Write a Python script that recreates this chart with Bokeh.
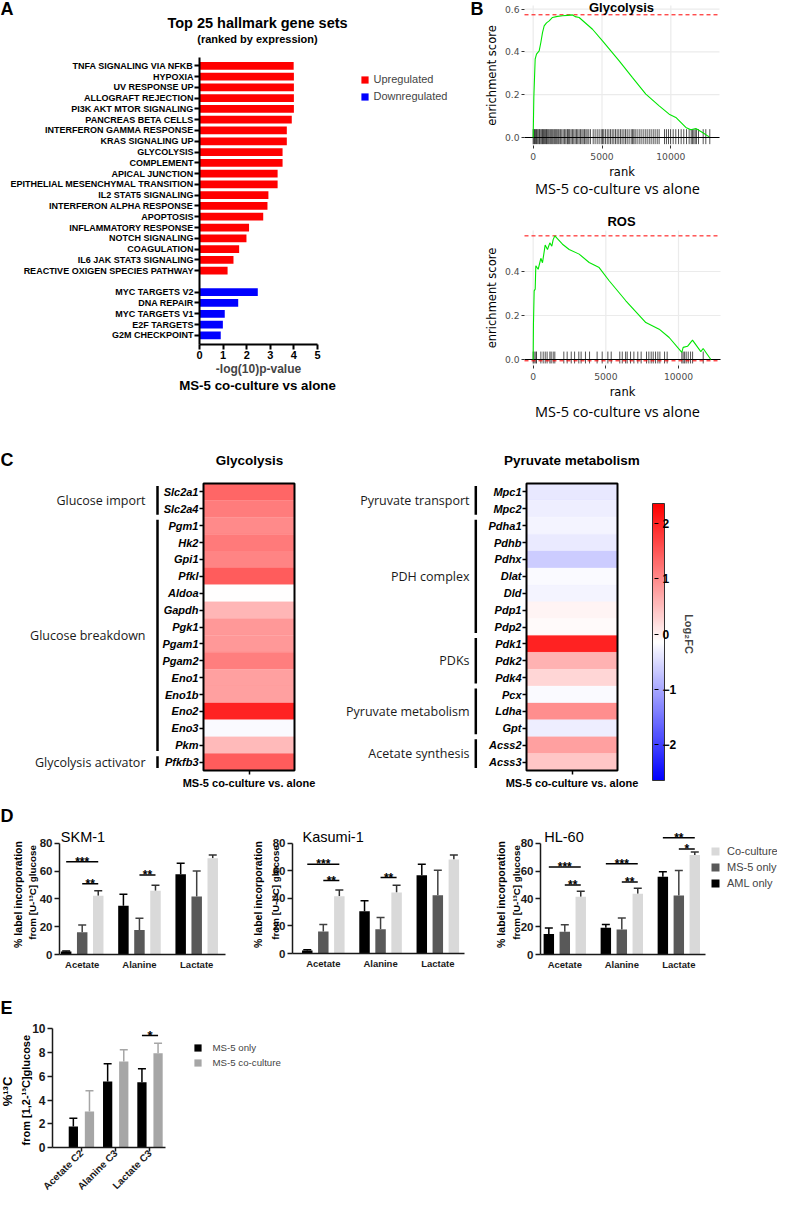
from math import pi
from bokeh.plotting import figure
from bokeh.layouts import row, column
from bokeh.models import (Range1d, LinearAxis, FixedTicker, Label, Legend, LegendItem, Whisker,
                          TeeHead, ColumnDataSource, LinearColorMapper, ColorBar,
                          PrintfTickFormatter)
from bokeh.core.properties import value
from bokeh.embed import file_html
from bokeh.resources import INLINE

SANS = "Liberation Sans"
GG = "DejaVu Sans"
OPEN = "Open Sans"

# ---------------- data: panel A ----------------
A_up_sets = ["TNFA SIGNALING VIA NFKB", "HYPOXIA", "UV RESPONSE UP", "ALLOGRAFT REJECTION",
             "PI3K AKT MTOR SIGNALING", "PANCREAS BETA CELLS", "INTERFERON GAMMA RESPONSE",
             "KRAS SIGNALING UP", "GLYCOLYSIS", "COMPLEMENT", "APICAL JUNCTION",
             "EPITHELIAL MESENCHYMAL TRANSITION", "IL2 STAT5 SIGNALING", "INTERFERON ALPHA RESPONSE",
             "APOPTOSIS", "INFLAMMATORY RESPONSE", "NOTCH SIGNALING", "COAGULATION",
             "IL6 JAK STAT3 SIGNALING", "REACTIVE OXIGEN SPECIES PATHWAY"]
A_up_vals = [3.99, 4.00, 4.00, 4.00, 4.00, 3.91, 3.70, 3.70, 3.52, 3.52, 3.31, 3.31,
             2.92, 2.88, 2.70, 2.10, 1.99, 1.68, 1.44, 1.19]
A_down_sets = ["MYC TARGETS V2", "DNA REPAIR", "MYC TARGETS V1", "E2F TARGETS", "G2M CHECKPOINT"]
A_down_vals = [2.47, 1.64, 1.07, 0.99, 0.90]
A_xticks = [0, 1, 2, 3, 4, 5]

# ---------------- data: panel B ----------------
gly_rank = [0, 48, 145, 242, 436, 557, 678, 799, 969, 1162, 1404, 1768, 2131, 2494, 2857, 3051,
            3341, 4310, 5036, 6247, 7215, 8184, 9153, 9879, 10363, 11090, 11453, 11816, 12300, 12785]
gly_es = [0.0, 0.187, 0.366, 0.390, 0.405, 0.444, 0.490, 0.522, 0.536, 0.545, 0.561, 0.566, 0.569,
          0.571, 0.573, 0.565, 0.561, 0.506, 0.452, 0.358, 0.280, 0.203, 0.148, 0.109, 0.094, 0.047,
          0.036, 0.042, 0.023, 0.003]
gly_hits = [0, 60, 100, 170, 240, 290, 360, 440, 480, 560, 630, 680, 750, 820, 900, 970, 1020, 1090,
            1160, 1240, 1310, 1380, 1450, 1530, 1600, 1670, 1740, 1820, 1890, 1990, 2080, 2180, 2280,
            2370, 2470, 2520, 2590, 2660, 2760, 2860, 2950, 3050, 3150, 3240, 3340, 3440, 3540, 3630,
            3730, 3830, 3920, 4040, 4160, 4360, 4500, 4650, 4790, 4940, 5040, 5130, 5250, 5380, 5500,
            5620, 5740, 5860, 5980, 6100, 6220, 6340, 6460, 6590, 6710, 6830, 6970, 7120, 7220, 7310,
            7410, 7550, 7700, 7840, 7990, 8140, 8280, 8430, 8570, 8720, 8860, 9010, 9150, 9540, 9680,
            9830, 9980, 10170, 10360, 10560, 10750, 10940, 11140, 11330, 11480, 11570, 11670, 11770,
            11860, 12010, 12350, 12540, 12830]
gly_es_max = 0.5735

ros_rank = [0, 20, 69, 140, 183, 344, 528, 642, 826, 986, 1147, 1284, 1376, 1491, 2018, 2477, 3165,
            3853, 4541, 5229, 6376, 7752, 8670, 9358, 10229, 10321, 10619, 10963, 11537, 11697, 12225]
ros_es = [0.0, 0.16, 0.312, 0.32, 0.426, 0.41, 0.46, 0.44, 0.52, 0.50, 0.53, 0.515, 0.545, 0.562,
          0.524, 0.50, 0.479, 0.441, 0.418, 0.358, 0.267, 0.168, 0.138, 0.10, 0.032, 0.055, 0.06,
          0.088, 0.036, 0.05, 0.0]
ros_hits = [0, 70, 180, 230, 530, 690, 830, 960, 1150, 1240, 1380, 1490, 2110, 2340, 2620, 2850, 3140,
            3300, 3600, 3880, 4400, 4750, 5140, 5370, 5960, 6130, 6360, 6470, 6700, 6930, 7200, 7430,
            7800, 7960, 8120, 8260, 8420, 8580, 8720, 9040, 9220, 10230, 10320, 10420, 10530, 10670,
            10830, 10970, 11700]
ros_es_max = 0.562
ros_es_min = -0.006
rank_ticks = [0, 5000, 10000]

# ---------------- data: panel C ----------------
gly_genes = ["Slc2a1", "Slc2a4", "Pgm1", "Hk2", "Gpi1", "Pfkl", "Aldoa", "Gapdh", "Pgk1", "Pgam1",
             "Pgam2", "Eno1", "Eno1b", "Eno2", "Eno3", "Pkm", "Pfkfb3"]
gly_fc = [1.5, 1.27, 1.15, 1.3, 1.2, 1.6, 0.0, 0.72, 1.0, 1.0, 1.25, 0.93, 0.93, 2.15, -0.04, 0.68, 1.6]
gly_groups = [("Glucose import", 0, 1), ("Glucose breakdown", 2, 15), ("Glycolysis activator", 16, 16)]

pyr_genes = ["Mpc1", "Mpc2", "Pdha1", "Pdhb", "Pdhx", "Dlat", "Dld", "Pdp1", "Pdp2", "Pdk1", "Pdk2",
             "Pdk4", "Pcx", "Ldha", "Gpt", "Acss2", "Acss3"]
pyr_fc = [-0.22, -0.17, -0.1, -0.2, -0.5, -0.05, -0.1, 0.1, 0.05, 2.15, 0.75, 0.4, -0.05, 1.1, -0.17,
          0.93, 0.55]
pyr_groups = [("Pyruvate transport", 0, 1), ("PDH complex", 2, 8), ("PDKs", 9, 11),
              ("Pyruvate metabolism", 12, 14), ("Acetate synthesis", 15, 16)]
cbar_ticks = [-2, -1, 0, 1, 2]

# ---------------- data: panel D ----------------
D_cats = ["Acetate", "Alanine", "Lactate"]
D_groups = ["AML only", "MS-5 only", "Co-culture"]
D_yticks = [0, 20, 40, 60, 80]

skm_aml = [2.1, 35.1, 57.8];   skm_aml_sd = [0.5, 8.3, 7.8]
skm_ms5 = [16.0, 17.7, 41.8];  skm_ms5_sd = [5.2, 8.3, 18.3]
skm_co = [42.2, 45.8, 69.2];   skm_co_sd = [3.6, 4.1, 2.4]
skm_sig_cat = [0, 0, 1]; skm_sig_a = [0, 1, 1]; skm_sig_b = [2, 2, 2]
skm_sig_h = [66.8, 51.0, 57.3]; skm_sig_txt = ["***", "**", "**"]

kas_aml = [2.2, 30.7, 56.8];   kas_aml_sd = [0.5, 7.5, 8.0]
kas_ms5 = [16.0, 17.6, 42.3];  kas_ms5_sd = [5.0, 8.5, 18.1]
kas_co = [41.6, 44.2, 68.2];   kas_co_sd = [4.4, 5.3, 3.3]
kas_sig_cat = [0, 0, 1]; kas_sig_a = [0, 1, 1]; kas_sig_b = [2, 2, 2]
kas_sig_h = [64.8, 52.9, 55.1]; kas_sig_txt = ["***", "**", "**"]

hl_aml = [14.7, 19.2, 56.0];   hl_aml_sd = [4.3, 2.4, 3.6]
hl_ms5 = [16.3, 18.0, 42.5];   hl_ms5_sd = [5.1, 8.2, 18.0]
hl_co = [41.6, 43.7, 71.6];    hl_co_sd = [4.0, 3.9, 2.2]
hl_sig_cat = [0, 0, 1, 1, 2, 2]; hl_sig_a = [0, 1, 0, 1, 0, 1]; hl_sig_b = [2, 2, 2, 2, 2, 2]
hl_sig_h = [62.9, 50.0, 65.3, 52.1, 84.1, 75.9]; hl_sig_txt = ["***", "**", "***", "**", "**", "*"]

# ---------------- data: panel E ----------------
E_cats = ["Acetate C2", "Alanine C3", "Lactate C3"]
E_groups = ["MS-5 only", "MS-5 co-culture"]
E_only = [1.77, 5.56, 5.50];  E_only_sd = [0.70, 1.49, 1.13]
E_co = [3.03, 7.25, 7.95];    E_co_sd = [1.75, 0.98, 0.84]
E_sig_cat = [2]; E_sig_h = [9.44]; E_sig_txt = ["*"]
E_yticks = [0, 2, 4, 6, 8, 10]

# ---------------- helpers ----------------
M = {}


def mkfig(px, py, w, h, L, T, R, B, xr, yr):
    """Figure whose frame is the whole canvas; (L,T,R,B) page box maps to data xr / yr."""
    sx = (xr[1] - xr[0]) / (R - L)
    sy = (yr[1] - yr[0]) / (B - T)
    fx = (xr[0] - (L - px) * sx, xr[1] + (px + w - R) * sx)
    fy = (yr[0] - (py + h - B) * sy, yr[1] + (T - py) * sy)
    p = figure(width=w, height=h, x_range=Range1d(*fx), y_range=Range1d(*fy),
               output_backend="svg", toolbar_location=None,
               x_axis_location=None, y_axis_location=None, min_border=0)
    p.grid.visible = False
    p.outline_line_color = None
    p.background_fill_color = "white"
    p.border_fill_color = "white"
    M[p.id] = (px, py, px + w, py + h, fx, fy)
    return p


def X(p, px):
    x0, y0, x1, y1, fx, fy = M[p.id]
    return fx[0] + (px - x0) / (x1 - x0) * (fx[1] - fx[0])


def Y(p, py):
    x0, y0, x1, y1, fx, fy = M[p.id]
    return fy[0] + (y1 - py) / (y1 - y0) * (fy[1] - fy[0])


def label(p, x, y, text, size, style="normal", font=SANS, align="center", baseline="middle",
          angle=0.0, color="black"):
    p.add_layout(Label(x=x, y=y, text=text, text_font=font, text_font_size=f"{size}px",
                       text_font_style=style, text_align=align, text_baseline=baseline,
                       angle=angle, text_color=color))


def plabel(p, px, py, text, size, **kw):
    label(p, X(p, px), Y(p, py), text, size, **kw)


def style_axis(ax, size, fstyle="bold", font=SANS, tick_out=4, tick_in=0, standoff=2, lw=1.5,
               color="black", line=True, label_color=None):
    ax.major_label_text_font = font
    ax.major_label_text_font_size = f"{size}px"
    ax.major_label_text_font_style = fstyle
    ax.major_label_text_color = label_color or color
    ax.major_label_standoff = standoff
    ax.major_tick_out = tick_out
    ax.major_tick_in = tick_in
    ax.major_tick_line_color = color
    ax.major_tick_line_width = lw
    ax.minor_tick_line_color = None
    ax.axis_line_color = color if line else None
    ax.axis_line_width = lw
    ax.axis_label_text_font = font
    ax.axis_label_text_font_style = "normal"


def leg_loc(p, left_px, bottom_px, dx=8, dy=8):
    x0, y0, x1, y1, fx, fy = M[p.id]
    return (left_px - x0 + dx, y1 - bottom_px - dy)


# ================= Panel A =================
A_yr = (25.85, -0.77)
pA = mkfig(8, 8, 468, 424, 207, 65, 325, 352, (0, 5), A_yr)
slot_up = list(range(len(A_up_sets)))
slot_dn = [len(A_up_sets) + 1 + i for i in range(len(A_down_sets))]
rU = pA.hbar(y=slot_up, left=0, right=A_up_vals, height=0.72, fill_color="#FF0000", line_color=None)
rD = pA.hbar(y=slot_dn, left=0, right=A_down_vals, height=0.72, fill_color="#0000FF", line_color=None)
ayA = LinearAxis(ticker=FixedTicker(ticks=slot_up + slot_dn), fixed_location=0,
                 bounds=(min(A_yr), max(A_yr)),
                 major_label_overrides={s: n for s, n in zip(slot_up + slot_dn, A_up_sets + A_down_sets)})
style_axis(ayA, 9, tick_out=5, standoff=1, lw=2)
pA.add_layout(ayA, "left")
axA = LinearAxis(ticker=FixedTicker(ticks=A_xticks), fixed_location=A_yr[0], bounds=(0, 5),
                 axis_label="-log(10)p-value")
style_axis(axA, 11, tick_out=5, standoff=1, lw=2)
axA.axis_label_text_font_size = "12px"
axA.axis_label_text_font_style = "bold"
axA.axis_label_standoff = 0
pA.add_layout(axA, "below")
legA = Legend(items=[LegendItem(label="Upregulated", renderers=[rU]),
                     LegendItem(label="Downregulated", renderers=[rD])],
              location=leg_loc(pA, 359.5, 104.5), glyph_width=9, glyph_height=9, label_height=17,
              spacing=0, padding=0, margin=0, label_standoff=5, label_text_font_size="11px",
              label_text_font=SANS, border_line_color=None, background_fill_alpha=0)
pA.add_layout(legA)
plabel(pA, 8, 16, "A", 18, style="bold", align="left")
plabel(pA, 265, 30, "Top 25 hallmark gene sets", 14.5, style="bold")
plabel(pA, 265, 46, "(ranked by expression)", 11, style="bold")
plabel(pA, 265, 392.5, "MS-5 co-culture vs alone", 13.3, style="bold")


# ================= Panel B =================
def gsea(p, xr, yr, ranks, es, hits, rug_lo, rug_hi, es_max, es_min, yticks, title, title_py, sub_py):
    p.segment(x0=rank_ticks, y0=yr[0], x1=rank_ticks, y1=yr[1], line_color="#EBEBEB", line_width=1.2)
    p.segment(x0=xr[0], y0=yticks, x1=xr[1], y1=yticks, line_color="#EBEBEB", line_width=1.2)
    p.segment(x0=hits, y0=rug_lo, x1=hits, y1=rug_hi, line_color="black", line_width=0.8,
              line_alpha=0.85)
    p.segment(x0=[xr[0]], y0=[0], x1=[xr[1]], y1=[0], line_color="black", line_width=1.2)
    hl = [es_max] + ([es_min] if es_min is not None else [])
    p.segment(x0=xr[0], y0=hl, x1=xr[1], y1=hl, line_color="red", line_dash="4 3", line_width=1)
    p.line(ranks, es, line_color="#00E600", line_width=1.1)
    ay = LinearAxis(ticker=FixedTicker(ticks=yticks), formatter=PrintfTickFormatter(format="%.1f"),
                    axis_label="enrichment score", fixed_location=xr[0], bounds=yr)
    style_axis(ay, 9.2, fstyle="normal", font=GG, tick_out=3, standoff=2, lw=1, color="#333333",
               line=False, label_color="#4D4D4D")
    ay.axis_label_text_font_size = "11.5px"
    ay.axis_label_text_color = "black"
    ay.axis_label_standoff = 3
    p.add_layout(ay, "left")
    ax = LinearAxis(ticker=FixedTicker(ticks=rank_ticks), formatter=PrintfTickFormatter(format="%d"),
                    axis_label="rank", fixed_location=yr[0], bounds=xr)
    style_axis(ax, 9.2, fstyle="normal", font=GG, tick_out=3, standoff=4, lw=1, color="#333333",
               line=False, label_color="#4D4D4D")
    ax.axis_label_text_font_size = "11.5px"
    ax.axis_label_text_color = "black"
    ax.axis_label_standoff = 2
    p.add_layout(ax, "below")
    plabel(p, 629, title_py, title, 13, style="bold")
    plabel(p, 625, sub_py, "MS-5 co-culture vs alone", 14.5, font=OPEN)


B1_xr, B1_yr = (-630, 13535), (-0.0374, 0.617)
pB1 = mkfig(476, 8, 309, 197, 532, 13, 727, 153, B1_xr, B1_yr)
gsea(pB1, B1_xr, B1_yr, gly_rank, gly_es, gly_hits, -0.031, 0.039, gly_es_max, None,
     [0, 0.2, 0.4, 0.6], "Glycolysis", 14.5, 196)
plabel(pB1, 478, 16, "B", 18, style="bold", align="left")

B2_xr, B2_yr = (-596, 12890), (-0.0273, 0.5864)
pB2 = mkfig(476, 205, 309, 227, 532, 238, 728, 373, B2_xr, B2_yr)
gsea(pB2, B2_xr, B2_yr, ros_rank, ros_es, ros_hits, -0.018, 0.036, ros_es_max, ros_es_min,
     [0, 0.2, 0.4], "ROS", 229, 419)

# ================= Panel C =================
palette = []
for i in range(256):
    t = i / 255.0
    if t < 0.5:
        s = t / 0.5
        palette.append("#%02x%02x%02x" % (int(round(255 * s)), int(round(255 * s)), 255))
    else:
        s = (t - 0.5) / 0.5
        palette.append("#%02x%02x%02x" % (255, int(round(255 * (1 - s))), int(round(255 * (1 - s)))))
mapper = LinearColorMapper(palette=palette, low=-2.5, high=2.5)


def heat(p, genes, fc, groups, title, title_px, bracket_px, label_px):
    n = len(genes)
    src = ColumnDataSource(dict(row=list(range(n)), fc=fc))
    p.rect(x=0, y="row", width=1, height=1, source=src,
           fill_color={"field": "fc", "transform": mapper},
           line_color={"field": "fc", "transform": mapper}, line_width=0.3)
    p.rect(x=[0], y=[(n - 1) / 2.0], width=1, height=n, fill_color=None, line_color="black",
           line_width=2)
    ay = LinearAxis(ticker=FixedTicker(ticks=list(range(n))), fixed_location=-0.5,
                    bounds=(-0.5, n - 0.5),
                    major_label_overrides={i: g for i, g in enumerate(genes)})
    style_axis(ay, 11, fstyle="bold italic", tick_out=4, standoff=1, lw=1.5, line=False)
    p.add_layout(ay, "left")
    ax = LinearAxis(ticker=FixedTicker(ticks=[0]), fixed_location=n - 0.5, bounds=(-0.5, 0.5),
                    major_label_overrides={0: "MS-5 co-culture vs. alone"})
    style_axis(ax, 11, fstyle="bold", tick_out=4, standoff=2, lw=1.5, line=False)
    p.add_layout(ax, "below")
    plabel(p, title_px, 467.7, title, 13.5, style="bold")
    bx = X(p, bracket_px)
    lx = X(p, label_px)
    p.segment(x0=bx, y0=[g[1] - 0.5 + 0.15 for g in groups], x1=bx,
              y1=[g[2] + 0.5 - 0.15 for g in groups], line_color="black", line_width=2.5)
    for name, r0, r1 in groups:
        label(p, lx, (r0 + r1) / 2.0, name, 12.5, font=OPEN, align="right", color="#1a1a1a")


pC1 = mkfig(8, 432, 340, 368, 211, 491, 302, 778, (-0.5, 0.5), (16.5, -0.5))
heat(pC1, gly_genes, gly_fc, gly_groups, "Glycolysis", 257, 165, 153)
plabel(pC1, 8, 467, "C", 18, style="bold", align="left")

pC2 = mkfig(348, 432, 437, 368, 534, 491, 625, 778, (-0.5, 0.5), (16.5, -0.5))
heat(pC2, pyr_genes, pyr_fc, pyr_groups, "Pyruvate metabolism", 579.3, 483.3, 477)
# colour-bar scale: -2.5 at page y 780, +2.5 at page y 503
cb_sy = 5.0 / (780 - 503)
pC2.extra_y_ranges = {"cb": Range1d(-2.5 - (800 - 780) * cb_sy, 2.5 + (503 - 432) * cb_sy)}
cb = ColorBar(color_mapper=mapper, location=leg_loc(pC2, 652, 780), width=12, height=277,
              padding=0, margin=0, ticker=FixedTicker(ticks=[]), major_tick_line_color=None,
              minor_tick_line_color=None, bar_line_color="#333333", bar_line_width=1,
              label_standoff=0, background_fill_alpha=0, border_line_color=None)
pC2.add_layout(cb)
acb = LinearAxis(ticker=FixedTicker(ticks=cbar_ticks), axis_label="Log\u2082FC", y_range_name="cb",
                 fixed_location=X(pC2, 664), bounds=(-2.5, 2.5), level="overlay")
style_axis(acb, 12, tick_out=2, tick_in=2, standoff=4, lw=1.2, line=False)
acb.axis_label_text_font_size = "11px"
acb.axis_label_text_font_style = "bold"
acb.axis_label_standoff = 4
pC2.add_layout(acb, "right")

# ================= Panel D =================
D_OFF = [-0.28, 0.0, 0.28]
D_COLORS = ["#000000", "#595959", "#D9D9D9"]
D_WCOLORS = ["#000000", "#404040", "#303030"]


def bar_panel(p, xr, cats, vals, sds, offs, width, colors, wcolors, sig_cat, sig_a, sig_b, sig_h,
              sig_txt, yticks, ybound, ysize, xsize, star_size, xrot="horizontal", xtick=0, xstand=4):
    rends = []
    for g in range(len(vals)):
        xs = [i + offs[g] for i in range(len(cats))]
        src = ColumnDataSource(dict(x=xs, top=vals[g], up=[v + e for v, e in zip(vals[g], sds[g])]))
        r = p.vbar(x="x", top="top", bottom=0, width=width, source=src, fill_color=colors[g],
                   line_color=None)
        rends.append(r)
        p.add_layout(Whisker(source=src, base="x", lower="top", upper="up", dimension="height",
                             line_color=wcolors[g], line_width=1.5, lower_head=None,
                             upper_head=TeeHead(size=8, line_color=wcolors[g], line_width=1.5)))
    x0 = [c + offs[a] for c, a in zip(sig_cat, sig_a)]
    x1 = [c + offs[b] for c, b in zip(sig_cat, sig_b)]
    p.segment(x0=x0, y0=sig_h, x1=x1, y1=sig_h, line_color="black", line_width=1.5)
    p.text(x=[(a + b) / 2 for a, b in zip(x0, x1)], y=sig_h, text=sig_txt,
           text_font=value(SANS), text_font_size=value(f"{star_size}px"), text_font_style="bold",
           text_align="center", text_baseline="alphabetic", text_color="black")
    ay = LinearAxis(ticker=FixedTicker(ticks=yticks), bounds=ybound, fixed_location=xr[0])
    style_axis(ay, ysize, tick_out=5, standoff=2, lw=1.5, color="#1a1a1a")
    p.add_layout(ay, "left")
    ax = LinearAxis(ticker=FixedTicker(ticks=list(range(len(cats)))), fixed_location=0, bounds=xr,
                    major_label_overrides={i: c for i, c in enumerate(cats)},
                    major_label_orientation=xrot)
    style_axis(ax, xsize, tick_out=xtick, standoff=xstand, lw=1.5, color="#1a1a1a")
    p.add_layout(ax, "below")
    return rends


def d_titles(p, title, title_px, t1_px, t2_px):
    plabel(p, title_px, 844.5, title, 14.5, align="left")
    plabel(p, t1_px, 902, "% label incorporation", 10.5, style="bold", angle=pi / 2)
    plabel(p, t2_px, 900, "from [U-\u00b9\u00b3C] glucose", 9.8, style="bold", angle=pi / 2)


D1_xr = (-0.3965, 2.503)
pD1 = mkfig(8, 800, 237, 230, 67, 830, 233, 962, D1_xr, (0, 95))
bar_panel(pD1, D1_xr, D_cats, [skm_aml, skm_ms5, skm_co], [skm_aml_sd, skm_ms5_sd, skm_co_sd], D_OFF,
          0.183, D_COLORS, D_WCOLORS, skm_sig_cat, skm_sig_a, skm_sig_b, skm_sig_h, skm_sig_txt,
          D_yticks, (0, 80), 11.5, 9.5, 12)
d_titles(pD1, "SKM-1", 68.3, 25.7, 39.7)
plabel(pD1, 8, 823, "D", 18, style="bold", align="left")
plabel(pD1, 8, 1015.5, "E", 18, style="bold", align="left")

D2_xr = (-0.538, 2.466)
pD2 = mkfig(245, 800, 253, 230, 300, 830, 472, 961, D2_xr, (0, 95))
bar_panel(pD2, D2_xr, D_cats, [kas_aml, kas_ms5, kas_co], [kas_aml_sd, kas_ms5_sd, kas_co_sd], D_OFF,
          0.183, D_COLORS, D_WCOLORS, kas_sig_cat, kas_sig_a, kas_sig_b, kas_sig_h, kas_sig_txt,
          D_yticks, (0, 80), 11.5, 9.5, 12)
d_titles(pD2, "Kasumi-1", 310, 265, 283.3)

D3_xr = (-0.426, 2.468)
pD3 = mkfig(498, 800, 287, 230, 548, 830, 713, 962, D3_xr, (0, 95))
rD3 = bar_panel(pD3, D3_xr, D_cats, [hl_aml, hl_ms5, hl_co], [hl_aml_sd, hl_ms5_sd, hl_co_sd], D_OFF,
                0.183, D_COLORS, D_WCOLORS, hl_sig_cat, hl_sig_a, hl_sig_b, hl_sig_h, hl_sig_txt,
                D_yticks, (0, 80), 11.5, 9.5, 12)
d_titles(pD3, "HL-60", 551.7, 508, 524)
legD = Legend(items=[LegendItem(label=D_groups[2], renderers=[rD3[2]]),
                     LegendItem(label=D_groups[1], renderers=[rD3[1]]),
                     LegendItem(label=D_groups[0], renderers=[rD3[0]])],
              location=leg_loc(pD3, 715, 890.7, dx=3), glyph_width=10, glyph_height=10,
              label_height=16, spacing=0, padding=0, margin=0, label_standoff=7,
              label_text_font_size="11px", label_text_font=SANS, border_line_color=None,
              background_fill_alpha=0)
pD3.add_layout(legD)

# ================= Panel E =================
E_xr = (-0.843, 2.452)
pE = mkfig(8, 1030, 292, 171, 60, 1027, 173, 1155, E_xr, (0, 10.79))
E_OFF = [-0.235, 0.235]
rE = bar_panel(pE, E_xr, E_cats, [E_only, E_co], [E_only_sd, E_co_sd], E_OFF, 0.27,
               ["#000000", "#A6A6A6"], ["#000000", "#A6A6A6"], E_sig_cat, [0], [1], E_sig_h,
               E_sig_txt, E_yticks, (0, 10), 12, 10, 13, xrot=pi / 4, xtick=4, xstand=0)
plabel(pE, 15, 1099, "%\u00b9\u00b3C", 13, style="bold", angle=pi / 2)
plabel(pE, 33.3, 1097.7, "from [1,2-\u00b9\u00b3C]glucose", 11, style="bold", angle=pi / 2)
legE = Legend(items=[LegendItem(label=E_groups[0], renderers=[rE[0]]),
                     LegendItem(label=E_groups[1], renderers=[rE[1]])],
              location=leg_loc(pE, 192.5, 1070), glyph_width=9, glyph_height=9, label_height=15,
              spacing=0, padding=0, margin=0, label_standoff=11, label_text_font_size="9.7px",
              label_text_font=SANS, border_line_color=None, background_fill_alpha=0)
pE.add_layout(legE)

layout = column(
    row(pA, column(pB1, pB2)),
    row(pC1, pC2),
    row(pD1, pD2, pD3),
    row(pE),
)

open("out.html", "w").write(file_html(layout, INLINE))
